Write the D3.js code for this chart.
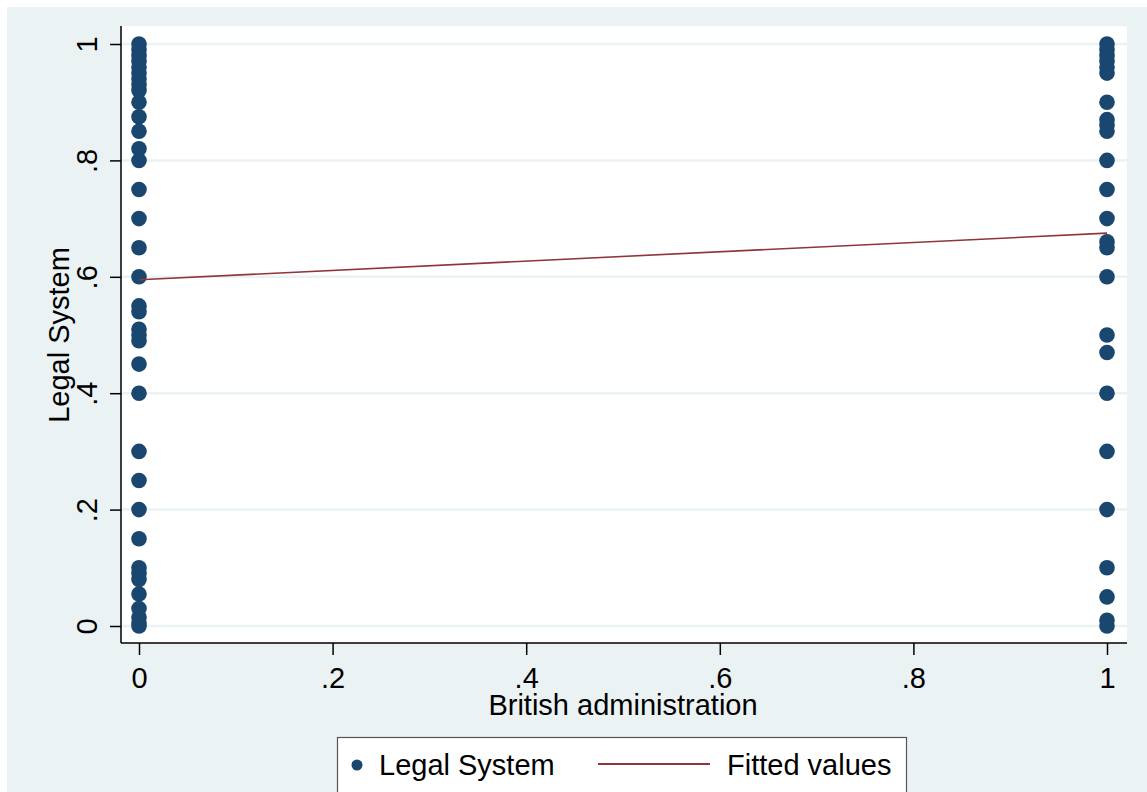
<!DOCTYPE html>
<html>
<head>
<meta charset="utf-8">
<script src="https://cdn.jsdelivr.net/npm/d3@7"></script>
<style>
  html, body { margin: 0; padding: 0; background: #ffffff; }
  svg { display: block; font-family: "Liberation Sans", Arial, sans-serif; }
</style>
</head>
<body>
<svg id="chart" width="1147" height="792"></svg>
<script>
// Legal System scores for non-British (0) and British (1) administration
const legalNonBritish = [1, 0.99, 0.98, 0.97, 0.96, 0.95, 0.94, 0.93, 0.92, 0.9, 0.875, 0.85, 0.82, 0.8,
  0.75, 0.7, 0.65, 0.6, 0.55, 0.54, 0.51, 0.5, 0.49, 0.45, 0.4, 0.3, 0.25, 0.2, 0.15,
  0.1, 0.09, 0.08, 0.055, 0.03, 0.015, 0.005, 0];
const legalBritish = [1, 0.99, 0.98, 0.97, 0.96, 0.95, 0.9, 0.87, 0.86, 0.85, 0.8, 0.75, 0.7,
  0.66, 0.65, 0.6, 0.5, 0.47, 0.4, 0.3, 0.2, 0.1, 0.05, 0.01, 0];
const fittedX = [0, 1];
const fittedY = [0.595, 0.675];
const xTicks = [0, 0.2, 0.4, 0.6, 0.8, 1];
const yTicks = [0, 0.2, 0.4, 0.6, 0.8, 1];

const points = [
  ...legalNonBritish.map((v) => ({ x: 0, y: v })),
  ...legalBritish.map((v) => ({ x: 1, y: v }))
];

const svg = d3.select('#chart');
const W = 1147, H = 792;
const FS = 29;
const plot = { left: 121, top: 26, right: 1127, bottom: 643 };

const x = d3.scaleLinear().domain([0, 1]).range([139, 1107]);
const y = d3.scaleLinear().domain([0, 1]).range([626, 44]);
const fmt = (d) => d === 0 ? '0' : d === 1 ? '1' : d3.format('.1f')(d).replace(/^0/, '');

// graph region
svg.append('rect').attr('x', 7).attr('y', 7).attr('width', W - 7).attr('height', H - 7)
  .attr('fill', '#eaf2f3');
svg.append('rect').attr('x', plot.left).attr('y', plot.top)
  .attr('width', plot.right - plot.left).attr('height', plot.bottom - plot.top)
  .attr('fill', '#ffffff');

// gridlines
svg.append('g').selectAll('line').data(yTicks).join('line')
  .attr('x1', plot.left).attr('x2', plot.right)
  .attr('y1', (d) => y(d)).attr('y2', (d) => y(d))
  .attr('stroke', '#eaf2f3').attr('stroke-width', 2.5);

// y axis
const yAxis = svg.append('g').attr('transform', `translate(${plot.left},0)`)
  .call(d3.axisLeft(y).tickValues(yTicks).tickFormat(fmt).tickSize(11).tickSizeOuter(0));
yAxis.select('.domain').remove();
yAxis.append('line').attr('y1', plot.top).attr('y2', plot.bottom).attr('stroke', '#000').attr('stroke-width', 1.5);
yAxis.selectAll('.tick line').attr('stroke', '#000').attr('stroke-width', 1.5);
yAxis.selectAll('.tick text')
  .attr('x', 0).attr('dy', 0)
  .attr('transform', 'translate(-24,0) rotate(-90)')
  .attr('text-anchor', 'middle')
  .attr('font-size', FS).attr('fill', '#000')
  .attr('font-family', '"Liberation Sans", Arial, sans-serif');

// x axis
const xAxis = svg.append('g').attr('transform', `translate(0,${plot.bottom})`)
  .call(d3.axisBottom(x).tickValues(xTicks).tickFormat(fmt).tickSize(12).tickSizeOuter(0));
xAxis.select('.domain').remove();
xAxis.append('line').attr('x1', plot.left).attr('x2', plot.right).attr('stroke', '#000').attr('stroke-width', 1.5);
xAxis.selectAll('.tick line').attr('stroke', '#000').attr('stroke-width', 1.5);
xAxis.selectAll('.tick text')
  .attr('y', 24).attr('dy', '0.71em')
  .attr('font-size', FS).attr('fill', '#000')
  .attr('font-family', '"Liberation Sans", Arial, sans-serif');

// axis titles
svg.append('text').attr('x', 623).attr('y', 715).attr('text-anchor', 'middle')
  .attr('font-size', FS).text('British administration');
svg.append('text').attr('transform', 'translate(69,335) rotate(-90)').attr('text-anchor', 'middle')
  .attr('font-size', FS).text('Legal System');

// scatter
svg.append('g').selectAll('circle').data(points).join('circle')
  .attr('cx', (d) => x(d.x)).attr('cy', (d) => y(d.y)).attr('r', 7.8)
  .attr('fill', '#1a476f');

// fitted line
const line = d3.line().x((d) => x(d[0])).y((d) => y(d[1]));
svg.append('path').datum(d3.zip(fittedX, fittedY)).attr('d', line)
  .attr('fill', 'none').attr('stroke', '#90353b').attr('stroke-width', 1.6);

// legend
const lg = svg.append('g');
lg.append('rect').attr('x', 337.5).attr('y', 737.5).attr('width', 569).attr('height', 70)
  .attr('fill', '#ffffff').attr('stroke', '#555').attr('stroke-width', 1.2);
lg.append('circle').attr('cx', 357).attr('cy', 765).attr('r', 5.5).attr('fill', '#1a476f');
lg.append('text').attr('x', 379).attr('y', 775).attr('font-size', FS).text('Legal System');
lg.append('line').attr('x1', 598).attr('x2', 710).attr('y1', 764).attr('y2', 764)
  .attr('stroke', '#90353b').attr('stroke-width', 1.8);
lg.append('text').attr('x', 727).attr('y', 775).attr('font-size', FS).text('Fitted values');
</script>
</body>
</html>
